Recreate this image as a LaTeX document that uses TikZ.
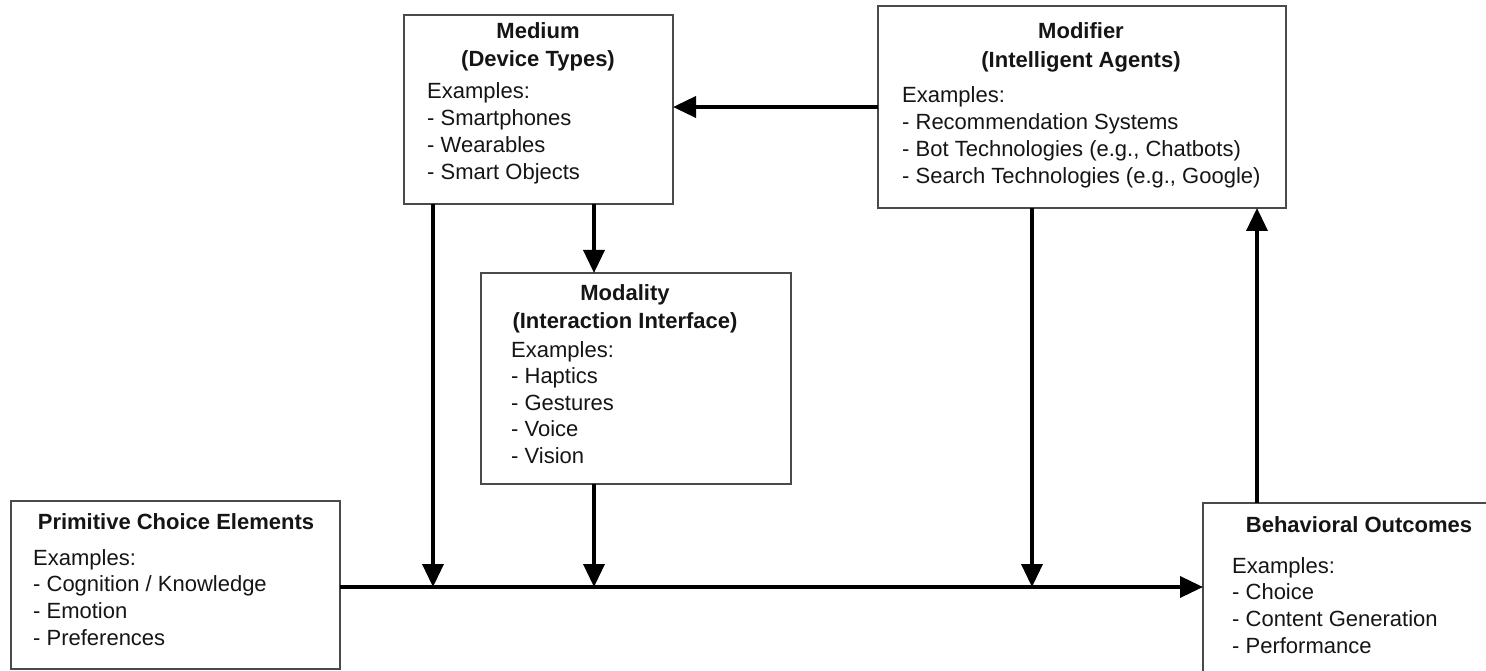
\documentclass[tikz,border=0pt]{standalone}
\usepackage{fontspec}
\setmainfont{Liberation Sans}
\usetikzlibrary{arrows.meta}
\definecolor{boxgray}{HTML}{4A4A4A}
\definecolor{ink}{HTML}{151515}
\begin{document}
\begin{tikzpicture}[x=1pt,y=-1pt,
  box/.style={draw=boxgray, line width=1.6pt, fill=white, inner sep=0, outer sep=0, anchor=north west},
  txt/.style={font=\fontsize{22}{27}\selectfont, inner sep=0, text=ink},
  ttl/.style={font=\fontsize{22}{27}\selectfont\bfseries, inner sep=0, text=ink, anchor=base},
  item/.style={txt, anchor=base west},
  arr/.style={line width=3.6pt, -{Triangle[length=23pt,width=21pt]}},
  link/.style={line width=3.6pt}]
\clip (0,0) rectangle (1486,671);

% boxes
\node[box, minimum width=269pt, minimum height=189pt] (medium) at (404,15) {};
\node[box, minimum width=408pt, minimum height=202pt] (modifier) at (878,6) {};
\node[box, minimum width=310pt, minimum height=211pt] (modality) at (481,273) {};
\node[box, minimum width=329pt, minimum height=168pt] (primitive) at (11,501) {};
\node[box, minimum width=320pt, minimum height=200pt] (behav) at (1203,503) {};

% Medium
\node[ttl] (medium-t1) at (538,39) {Medium};
\node[ttl] (medium-t2) at (538,67) {(Device Types)};
\foreach \s [count=\i from 0] in {Examples:,- Smartphones,- Wearables,- Smart Objects}
  \node[item] (medium-l\i) at (427,99+27*\i) {\s};

% Modifier
\node[ttl] (modifier-t1) at (1081,39) {Modifier};
\node[ttl] (modifier-t2) at (1081,68) {(Intelligent Agents)};
\foreach \s [count=\i from 0] in {Examples:,- Recommendation Systems,- Bot Technologies (e.g.{,} Chatbots),- Search Technologies (e.g.{,} Google)}
  \node[item] (modifier-l\i) at (902,102.5+27*\i) {\s};

% Modality
\node[ttl] (modality-t1) at (625,300) {Modality};
\node[ttl] (modality-t2) at (625,328) {(Interaction Interface)};
\foreach \s [count=\i from 0] in {Examples:,- Haptics,- Gestures,- Voice,- Vision}
  \node[item] (modality-l\i) at (511,357+26.6*\i) {\s};

% Primitive choice elements
\node[ttl] (primitive-t1) at (176,529) {Primitive Choice Elements};
\foreach \s [count=\i from 0] in {Examples:,- Cognition / Knowledge,- Emotion,- Preferences}
  \node[item] (primitive-l\i) at (33,565+26.7*\i) {\s};

% Behavioral outcomes
\node[ttl] (behav-t1) at (1359,532) {Behavioral Outcomes};
\foreach \s [count=\i from 0] in {Examples:,- Choice,- Content Generation,- Performance}
  \node[item] (behav-l\i) at (1232,573+26.8*\i) {\s};

% junctions on the main line and connector guides
\coordinate (j1) at (433,587);
\coordinate (j2) at (594,587);
\coordinate (j3) at (1032,587);
\coordinate (up) at (1257,0);
\coordinate (lvl) at (0,107);

% connectors
\draw[arr] (primitive.east |- j1) -- (behav.west |- j1);
\draw[arr] (medium.south -| j1) -- (j1);
\draw[arr] (medium.south -| j2) -- (modality.north -| j2);
\draw[arr] (modality.south -| j2) -- (j2);
\draw[arr] (modifier.south -| j3) -- (j3);
\draw[arr] (behav.north -| up) -- (modifier.south -| up);
\draw[arr] (modifier.west |- lvl) -- (medium.east |- lvl);
\end{tikzpicture}
\end{document}
